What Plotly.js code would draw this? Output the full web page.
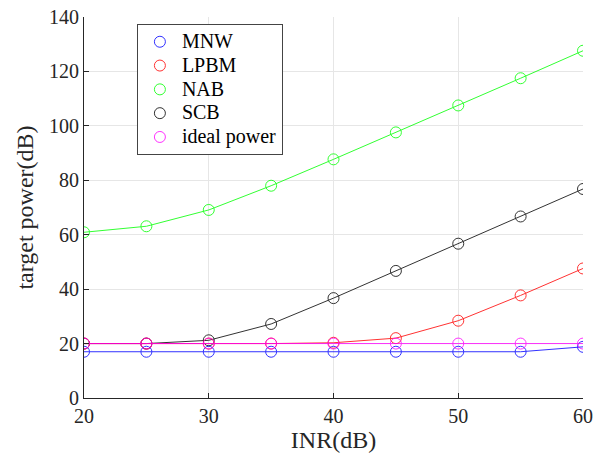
<!DOCTYPE html>
<html>
<head>
<meta charset="utf-8">
<script src="https://cdn.plot.ly/plotly-3.0.1.min.js"></script>
<style>body{margin:0;padding:0;background:#fff;}#chart{width:602px;height:464px;}</style>
</head>
<body>
<div id="chart"></div>
<script>
const inr = [20, 25, 30, 35, 40, 45, 50, 55, 60];
const mnw = [17.0, 17.0, 17.0, 17.0, 17.0, 17.0, 17.0, 17.0, 18.8];
const lpbm = [20.0, 20.0, 20.0, 20.0, 20.3, 22.0, 28.4, 37.7, 47.6];
const nab = [60.9, 63.1, 69.1, 78.0, 87.7, 97.6, 107.5, 117.5, 127.6];
const scb = [20.0, 20.0, 21.2, 27.2, 36.7, 46.7, 56.7, 66.7, 76.8];
const ideal = [20, 20, 20, 20, 20, 20, 20, 20, 20];
const names = ['MNW', 'LPBM', 'NAB', 'SCB', 'ideal power'];
const colors = ['#0000ff', '#ff0000', '#00ff00', '#000000', '#ff00ff'];
const series = [mnw, lpbm, nab, scb, ideal];
const FONT = 'Times New Roman, Liberation Serif, DejaVu Serif, serif';

const traces = [];
const order = [2, 3, 1, 0, 4];
order.forEach(i => {
  traces.push({
    x: inr, y: series[i], mode: 'lines+markers', name: names[i],
    showlegend: false,
    line: {color: colors[i], width: 1},
    marker: {symbol: 'circle-open', size: 11, color: colors[i], line: {width: 1, color: colors[i]}},
    opacity: 0.8
  });
});
names.forEach((n, i) => {
  traces.push({
    x: [null], y: [null], mode: 'markers',
    name: '<span style="font-size:20px">' + n + '</span>',
    marker: {symbol: 'circle-open', size: 11, color: colors[i], line: {width: 1, color: colors[i]}},
    opacity: 0.8
  });
});

const layout = {
  width: 602, height: 464,
  margin: {l: 84, r: 19, t: 17, b: 66},
  paper_bgcolor: '#fff', plot_bgcolor: '#fff',
  font: {family: FONT, size: 20, color: '#262626'},
  xaxis: {
    range: [20, 60], tickvals: [20, 30, 40, 50, 60],
    ticks: 'inside', ticklen: 5, tickcolor: '#262626',
    showline: true, linecolor: '#262626', linewidth: 1,
    showgrid: true, gridcolor: '#e6e6e6', zeroline: false,
    title: {text: 'INR(dB)', font: {family: FONT, size: 24, color: '#262626'}, standoff: 4},
    tickfont: {family: FONT, size: 20}
  },
  yaxis: {
    range: [0, 140], tickvals: [0, 20, 40, 60, 80, 100, 120, 140],
    ticks: 'inside', ticklen: 5, tickcolor: '#262626',
    showline: true, linecolor: '#262626', linewidth: 1,
    showgrid: true, gridcolor: '#e6e6e6', zeroline: false,
    title: {text: 'target power(dB)', font: {family: FONT, size: 24, color: '#262626'}, standoff: 8},
    tickfont: {family: FONT, size: 20}
  },
  legend: {
    x: 0.106, y: 0.982, xanchor: 'left', yanchor: 'top',
    bgcolor: '#fff', bordercolor: '#444', borderwidth: 1,
    font: {family: FONT, size: 16, color: '#000'},
    itemwidth: 34,
    tracegroupgap: 0
  },
  showlegend: true
};
Plotly.newPlot('chart', traces, layout, {displayModeBar: false, staticPlot: true});
</script>
</body>
</html>
